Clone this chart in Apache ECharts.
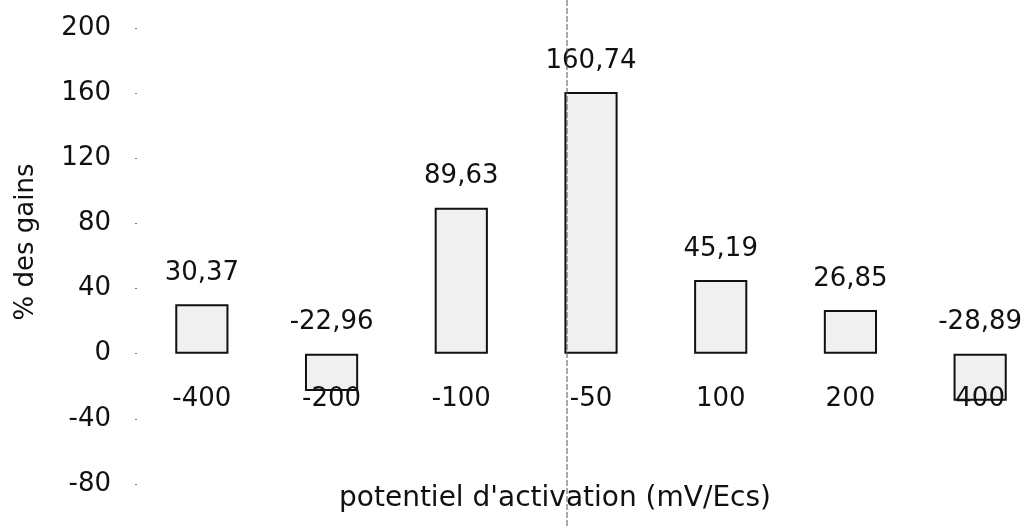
<!DOCTYPE html>
<html>
<head>
<meta charset="utf-8">
<script src="https://cdn.jsdelivr.net/npm/echarts@6/dist/echarts.min.js"></script>
<style>
  html, body { margin: 0; padding: 0; background: #fff; }
  #chart { width: 1028px; height: 526px; }
</style>
</head>
<body>
<div id="chart"></div>
<script>
// Activation potential categories (mV/Ecs) and gain percentages
const categories = ['-400', '-200', '-100', '-50', '100', '200', '400'];
const gains = [30.37, -22.96, 89.63, 160.74, 45.19, 26.85, -28.89];
const yTicks = { min: -80, max: 200, interval: 40 };
// Category names sit just under the zero line
const baseline = categories.map(() => 0);

const font = '"DejaVu Sans", "Liberation Sans", Arial, sans-serif';
const fmt = v => v.toFixed(2).replace('.', ',');

const chart = echarts.init(document.getElementById('chart'));
chart.setOption({
  animation: false,
  backgroundColor: '#ffffff',
  grid: {
    left: 137, right: -17, top: 28, bottom: 42,
    containLabel: false,
    outerBoundsMode: 'none'
  },
  xAxis: {
    type: 'category',
    data: categories,
    axisLine: { show: false },
    axisTick: { show: false },
    axisLabel: { show: false },
    name: "potentiel d'activation (mV/Ecs)",
    nameLocation: 'middle',
    nameGap: 1,
    nameTextStyle: { color: '#111', fontFamily: font, fontSize: 28, padding: [0, 72, 0, 0] }
  },
  yAxis: {
    type: 'value',
    min: yTicks.min,
    max: yTicks.max,
    interval: yTicks.interval,
    splitLine: { show: false },
    axisLine: { show: false },
    axisTick: { show: true, length: 2, lineStyle: { color: '#777' } },
    axisLabel: { color: '#111', fontFamily: font, fontSize: 26, margin: 26 },
    name: '% des gains',
    nameLocation: 'middle',
    nameGap: 98,
    nameTextStyle: { color: '#111', fontFamily: font, fontSize: 26, padding: [0, 0, 0, 28] }
  },
  series: [{
    type: 'bar',
    data: gains,
    barWidth: '41%',
    itemStyle: { color: '#f0f0f0', borderColor: '#111', borderWidth: 2 },
    label: {
      show: true,
      position: 'top',
      distance: 18,
      color: '#111',
      fontFamily: font,
      fontSize: 26,
      formatter: p => fmt(p.value)
    },
    z: 2
  }, {
    type: 'scatter',
    data: baseline,
    symbolSize: 1,
    silent: true,
    itemStyle: { color: 'rgba(0,0,0,0)', opacity: 1 },
    label: {
      show: true,
      position: 'bottom',
      distance: 32,
      color: '#111',
      fontFamily: font,
      fontSize: 26,
      formatter: p => p.name
    },
    z: 3
  }],
  graphic: [{
    type: 'line',
    shape: { x1: 567, y1: 0, x2: 567, y2: 526 },
    style: { stroke: '#555', lineWidth: 1, lineDash: [6, 2] },
    z: 10
  }]
});
</script>
</body>
</html>
